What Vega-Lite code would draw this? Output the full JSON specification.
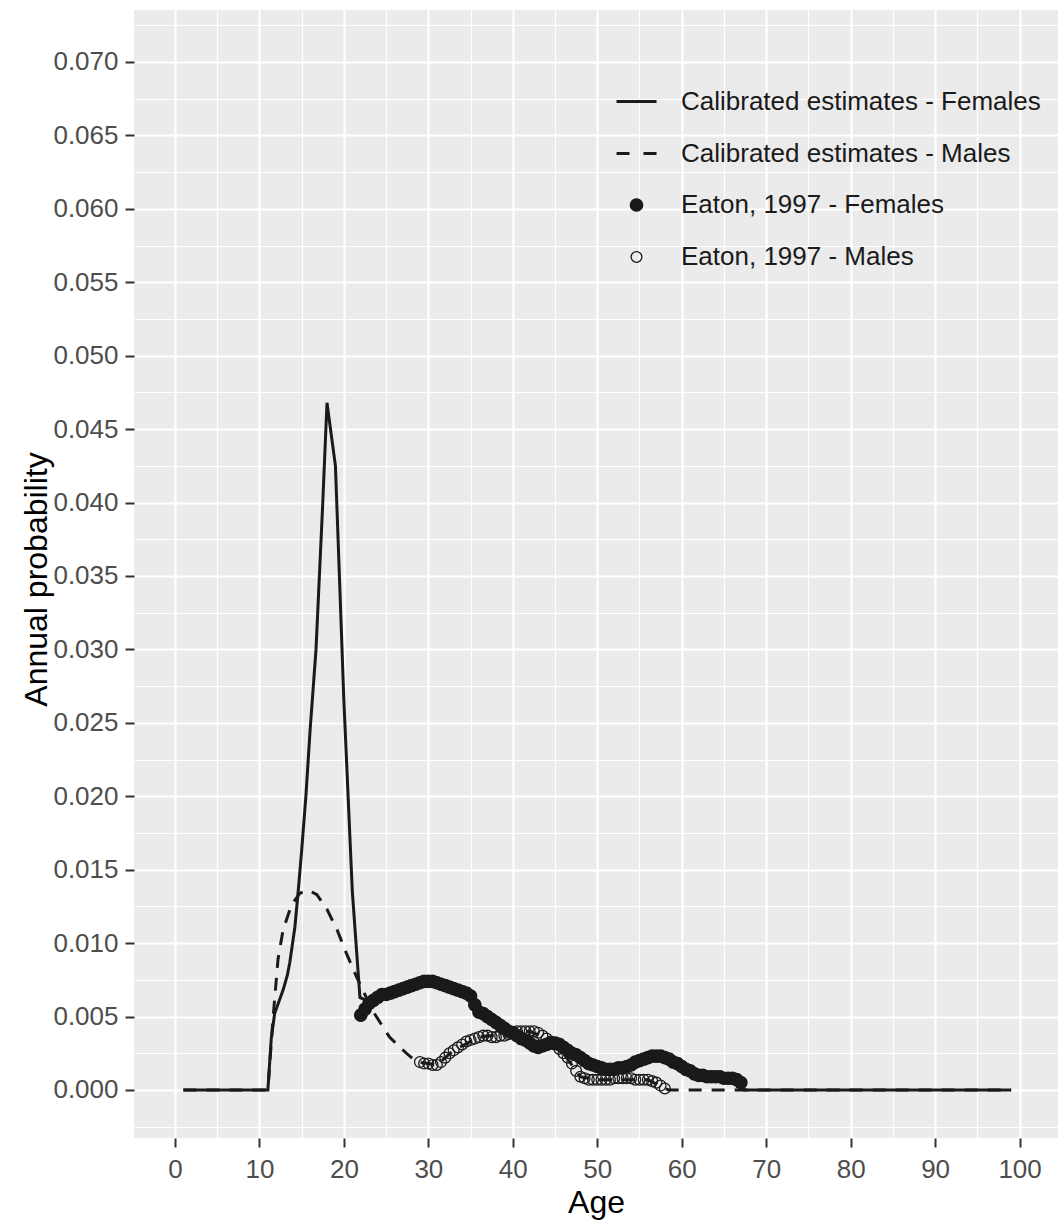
{
  "$schema": "https://vega.github.io/schema/vega-lite/v6.json",
  "width": 924,
  "height": 1128,
  "autosize": {"type": "none"},
  "padding": {"left": 134, "top": 10, "right": 5, "bottom": 84},
  "background": "white",
  "config": {
    "view": {"fill": "#ebebeb", "stroke": null},
    "font": "Liberation Sans",
    "axis": {
      "domain": false,
      "gridColor": "white",
      "tickColor": "#333333",
      "tickWidth": 2,
      "tickSize": 9,
      "labelColor": "#4d4d4d",
      "labelFont": "Liberation Sans",
      "labelFontSize": 26,
      "labelOverlap": false,
      "titleFont": "Liberation Sans",
      "titleFontSize": 32,
      "titleFontWeight": "normal",
      "titleColor": "#000000"
    },
    "legend": {
      "title": null, "orient": "none", "legendX": 481, "legendY": 70, "padding": 0,
      "labelFontSize": 26, "labelColor": "#1a1a1a", "labelFont": "Liberation Sans", "labelLimit": 600,
      "labelOffset": 23, "rowPadding": 17, "gridAlign": "all", "direction": "vertical",
      "symbolSize": 1600
    }
  },
  "datasets": {
    "lines": [
      {"age": 1, "p": 0, "series": "F"},
      {"age": 11, "p": 0, "series": "F"},
      {"age": 11.4, "p": 0.0035, "series": "F"},
      {"age": 11.8, "p": 0.0052, "series": "F"},
      {"age": 12.3, "p": 0.006, "series": "F"},
      {"age": 12.8, "p": 0.0068, "series": "F"},
      {"age": 13.3, "p": 0.0078, "series": "F"},
      {"age": 13.6, "p": 0.0087, "series": "F"},
      {"age": 14.2, "p": 0.0111, "series": "F"},
      {"age": 14.6, "p": 0.0136, "series": "F"},
      {"age": 15, "p": 0.0163, "series": "F"},
      {"age": 15.5, "p": 0.02, "series": "F"},
      {"age": 16, "p": 0.0245, "series": "F"},
      {"age": 16.7, "p": 0.03, "series": "F"},
      {"age": 17.5, "p": 0.04, "series": "F"},
      {"age": 18, "p": 0.0468, "series": "F"},
      {"age": 19, "p": 0.0425, "series": "F"},
      {"age": 20, "p": 0.0265, "series": "F"},
      {"age": 21, "p": 0.0135, "series": "F"},
      {"age": 21.9, "p": 0.0063, "series": "F"},
      {"age": 23, "p": 0.006, "series": "F"},
      {"age": 25, "p": 0.0065, "series": "F"},
      {"age": 27, "p": 0.0069, "series": "F"},
      {"age": 30, "p": 0.0074, "series": "F"},
      {"age": 33, "p": 0.0069, "series": "F"},
      {"age": 35, "p": 0.0064, "series": "F"},
      {"age": 36, "p": 0.0053, "series": "F"},
      {"age": 38, "p": 0.0046, "series": "F"},
      {"age": 40, "p": 0.0039, "series": "F"},
      {"age": 43, "p": 0.0029, "series": "F"},
      {"age": 45, "p": 0.0032, "series": "F"},
      {"age": 48, "p": 0.0022, "series": "F"},
      {"age": 51, "p": 0.0014, "series": "F"},
      {"age": 53, "p": 0.0015, "series": "F"},
      {"age": 57, "p": 0.0023, "series": "F"},
      {"age": 59, "p": 0.0019, "series": "F"},
      {"age": 62, "p": 0.001, "series": "F"},
      {"age": 66, "p": 0.0008, "series": "F"},
      {"age": 67, "p": 0.0005, "series": "F"},
      {"age": 67.4, "p": 0, "series": "F"},
      {"age": 99, "p": 0, "series": "F"},
      {"age": 1, "p": 0, "series": "M"},
      {"age": 11, "p": 0, "series": "M"},
      {"age": 11.6, "p": 0.0048, "series": "M"},
      {"age": 12.2, "p": 0.0089, "series": "M"},
      {"age": 12.8, "p": 0.0109, "series": "M"},
      {"age": 13.8, "p": 0.0126, "series": "M"},
      {"age": 14.8, "p": 0.0134, "series": "M"},
      {"age": 15.8, "p": 0.0136, "series": "M"},
      {"age": 16.8, "p": 0.0133, "series": "M"},
      {"age": 18, "p": 0.0123, "series": "M"},
      {"age": 19.2, "p": 0.0109, "series": "M"},
      {"age": 20.3, "p": 0.0093, "series": "M"},
      {"age": 21.5, "p": 0.0077, "series": "M"},
      {"age": 23.4, "p": 0.0054, "series": "M"},
      {"age": 25.4, "p": 0.0036, "series": "M"},
      {"age": 27.4, "p": 0.0025, "series": "M"},
      {"age": 28.6, "p": 0.0019, "series": "M"},
      {"age": 30, "p": 0.0018, "series": "M"},
      {"age": 31, "p": 0.0017, "series": "M"},
      {"age": 33, "p": 0.0027, "series": "M"},
      {"age": 36, "p": 0.0036, "series": "M"},
      {"age": 40, "p": 0.0039, "series": "M"},
      {"age": 42, "p": 0.004, "series": "M"},
      {"age": 44, "p": 0.0035, "series": "M"},
      {"age": 46, "p": 0.0025, "series": "M"},
      {"age": 48, "p": 0.0009, "series": "M"},
      {"age": 50, "p": 0.0007, "series": "M"},
      {"age": 56, "p": 0.0007, "series": "M"},
      {"age": 58, "p": 0.0001, "series": "M"},
      {"age": 58.5, "p": 0, "series": "M"},
      {"age": 99, "p": 0, "series": "M"}
    ],
    "points": [
      {"age": 29, "p": 0.0019, "series": "Eaton, 1997 - Males"},
      {"age": 29.5, "p": 0.0018, "series": "Eaton, 1997 - Males"},
      {"age": 30, "p": 0.0018, "series": "Eaton, 1997 - Males"},
      {"age": 30.5, "p": 0.0017, "series": "Eaton, 1997 - Males"},
      {"age": 31, "p": 0.0017, "series": "Eaton, 1997 - Males"},
      {"age": 31.5, "p": 0.0019, "series": "Eaton, 1997 - Males"},
      {"age": 32, "p": 0.0022, "series": "Eaton, 1997 - Males"},
      {"age": 32.5, "p": 0.0025, "series": "Eaton, 1997 - Males"},
      {"age": 33, "p": 0.0027, "series": "Eaton, 1997 - Males"},
      {"age": 33.5, "p": 0.0029, "series": "Eaton, 1997 - Males"},
      {"age": 34, "p": 0.0031, "series": "Eaton, 1997 - Males"},
      {"age": 34.5, "p": 0.0033, "series": "Eaton, 1997 - Males"},
      {"age": 35, "p": 0.0034, "series": "Eaton, 1997 - Males"},
      {"age": 35.5, "p": 0.0035, "series": "Eaton, 1997 - Males"},
      {"age": 36, "p": 0.0036, "series": "Eaton, 1997 - Males"},
      {"age": 36.5, "p": 0.0037, "series": "Eaton, 1997 - Males"},
      {"age": 37, "p": 0.0037, "series": "Eaton, 1997 - Males"},
      {"age": 37.5, "p": 0.0036, "series": "Eaton, 1997 - Males"},
      {"age": 38, "p": 0.0036, "series": "Eaton, 1997 - Males"},
      {"age": 38.5, "p": 0.0037, "series": "Eaton, 1997 - Males"},
      {"age": 39, "p": 0.0037, "series": "Eaton, 1997 - Males"},
      {"age": 39.5, "p": 0.0038, "series": "Eaton, 1997 - Males"},
      {"age": 40, "p": 0.0039, "series": "Eaton, 1997 - Males"},
      {"age": 40.5, "p": 0.004, "series": "Eaton, 1997 - Males"},
      {"age": 41, "p": 0.004, "series": "Eaton, 1997 - Males"},
      {"age": 41.5, "p": 0.004, "series": "Eaton, 1997 - Males"},
      {"age": 42, "p": 0.004, "series": "Eaton, 1997 - Males"},
      {"age": 42.5, "p": 0.004, "series": "Eaton, 1997 - Males"},
      {"age": 43, "p": 0.0039, "series": "Eaton, 1997 - Males"},
      {"age": 43.5, "p": 0.0037, "series": "Eaton, 1997 - Males"},
      {"age": 44, "p": 0.0035, "series": "Eaton, 1997 - Males"},
      {"age": 44.5, "p": 0.0033, "series": "Eaton, 1997 - Males"},
      {"age": 45, "p": 0.0031, "series": "Eaton, 1997 - Males"},
      {"age": 45.5, "p": 0.0028, "series": "Eaton, 1997 - Males"},
      {"age": 46, "p": 0.0025, "series": "Eaton, 1997 - Males"},
      {"age": 46.5, "p": 0.0022, "series": "Eaton, 1997 - Males"},
      {"age": 47, "p": 0.0018, "series": "Eaton, 1997 - Males"},
      {"age": 47.5, "p": 0.0013, "series": "Eaton, 1997 - Males"},
      {"age": 48, "p": 0.0009, "series": "Eaton, 1997 - Males"},
      {"age": 48.5, "p": 0.0008, "series": "Eaton, 1997 - Males"},
      {"age": 49, "p": 0.0007, "series": "Eaton, 1997 - Males"},
      {"age": 49.5, "p": 0.0007, "series": "Eaton, 1997 - Males"},
      {"age": 50, "p": 0.0007, "series": "Eaton, 1997 - Males"},
      {"age": 50.5, "p": 0.0007, "series": "Eaton, 1997 - Males"},
      {"age": 51, "p": 0.0007, "series": "Eaton, 1997 - Males"},
      {"age": 51.5, "p": 0.0007, "series": "Eaton, 1997 - Males"},
      {"age": 52, "p": 0.0008, "series": "Eaton, 1997 - Males"},
      {"age": 52.5, "p": 0.0008, "series": "Eaton, 1997 - Males"},
      {"age": 53, "p": 0.0008, "series": "Eaton, 1997 - Males"},
      {"age": 53.5, "p": 0.0008, "series": "Eaton, 1997 - Males"},
      {"age": 54, "p": 0.0008, "series": "Eaton, 1997 - Males"},
      {"age": 54.5, "p": 0.0007, "series": "Eaton, 1997 - Males"},
      {"age": 55, "p": 0.0007, "series": "Eaton, 1997 - Males"},
      {"age": 55.5, "p": 0.0007, "series": "Eaton, 1997 - Males"},
      {"age": 56, "p": 0.0007, "series": "Eaton, 1997 - Males"},
      {"age": 56.5, "p": 0.0006, "series": "Eaton, 1997 - Males"},
      {"age": 57, "p": 0.0005, "series": "Eaton, 1997 - Males"},
      {"age": 57.5, "p": 0.0003, "series": "Eaton, 1997 - Males"},
      {"age": 58, "p": 0.0001, "series": "Eaton, 1997 - Males"},
      {"age": 22, "p": 0.0051, "series": "Eaton, 1997 - Females"},
      {"age": 22.5, "p": 0.0055, "series": "Eaton, 1997 - Females"},
      {"age": 23, "p": 0.0059, "series": "Eaton, 1997 - Females"},
      {"age": 23.5, "p": 0.0061, "series": "Eaton, 1997 - Females"},
      {"age": 24, "p": 0.0063, "series": "Eaton, 1997 - Females"},
      {"age": 24.5, "p": 0.0065, "series": "Eaton, 1997 - Females"},
      {"age": 25, "p": 0.0065, "series": "Eaton, 1997 - Females"},
      {"age": 25.5, "p": 0.0066, "series": "Eaton, 1997 - Females"},
      {"age": 26, "p": 0.0067, "series": "Eaton, 1997 - Females"},
      {"age": 26.5, "p": 0.0068, "series": "Eaton, 1997 - Females"},
      {"age": 27, "p": 0.0069, "series": "Eaton, 1997 - Females"},
      {"age": 27.5, "p": 0.007, "series": "Eaton, 1997 - Females"},
      {"age": 28, "p": 0.0071, "series": "Eaton, 1997 - Females"},
      {"age": 28.5, "p": 0.0072, "series": "Eaton, 1997 - Females"},
      {"age": 29, "p": 0.0073, "series": "Eaton, 1997 - Females"},
      {"age": 29.5, "p": 0.0074, "series": "Eaton, 1997 - Females"},
      {"age": 30, "p": 0.0074, "series": "Eaton, 1997 - Females"},
      {"age": 30.5, "p": 0.0074, "series": "Eaton, 1997 - Females"},
      {"age": 31, "p": 0.0073, "series": "Eaton, 1997 - Females"},
      {"age": 31.5, "p": 0.0072, "series": "Eaton, 1997 - Females"},
      {"age": 32, "p": 0.0071, "series": "Eaton, 1997 - Females"},
      {"age": 32.5, "p": 0.007, "series": "Eaton, 1997 - Females"},
      {"age": 33, "p": 0.0069, "series": "Eaton, 1997 - Females"},
      {"age": 33.5, "p": 0.0068, "series": "Eaton, 1997 - Females"},
      {"age": 34, "p": 0.0067, "series": "Eaton, 1997 - Females"},
      {"age": 34.5, "p": 0.0066, "series": "Eaton, 1997 - Females"},
      {"age": 35, "p": 0.0064, "series": "Eaton, 1997 - Females"},
      {"age": 35.5, "p": 0.0058, "series": "Eaton, 1997 - Females"},
      {"age": 36, "p": 0.0053, "series": "Eaton, 1997 - Females"},
      {"age": 36.5, "p": 0.0052, "series": "Eaton, 1997 - Females"},
      {"age": 37, "p": 0.005, "series": "Eaton, 1997 - Females"},
      {"age": 37.5, "p": 0.0048, "series": "Eaton, 1997 - Females"},
      {"age": 38, "p": 0.0046, "series": "Eaton, 1997 - Females"},
      {"age": 38.5, "p": 0.0044, "series": "Eaton, 1997 - Females"},
      {"age": 39, "p": 0.0042, "series": "Eaton, 1997 - Females"},
      {"age": 39.5, "p": 0.004, "series": "Eaton, 1997 - Females"},
      {"age": 40, "p": 0.0039, "series": "Eaton, 1997 - Females"},
      {"age": 40.5, "p": 0.0037, "series": "Eaton, 1997 - Females"},
      {"age": 41, "p": 0.0035, "series": "Eaton, 1997 - Females"},
      {"age": 41.5, "p": 0.0034, "series": "Eaton, 1997 - Females"},
      {"age": 42, "p": 0.0032, "series": "Eaton, 1997 - Females"},
      {"age": 42.5, "p": 0.003, "series": "Eaton, 1997 - Females"},
      {"age": 43, "p": 0.0029, "series": "Eaton, 1997 - Females"},
      {"age": 43.5, "p": 0.003, "series": "Eaton, 1997 - Females"},
      {"age": 44, "p": 0.0031, "series": "Eaton, 1997 - Females"},
      {"age": 44.5, "p": 0.0032, "series": "Eaton, 1997 - Females"},
      {"age": 45, "p": 0.0032, "series": "Eaton, 1997 - Females"},
      {"age": 45.5, "p": 0.0031, "series": "Eaton, 1997 - Females"},
      {"age": 46, "p": 0.0029, "series": "Eaton, 1997 - Females"},
      {"age": 46.5, "p": 0.0027, "series": "Eaton, 1997 - Females"},
      {"age": 47, "p": 0.0025, "series": "Eaton, 1997 - Females"},
      {"age": 47.5, "p": 0.0024, "series": "Eaton, 1997 - Females"},
      {"age": 48, "p": 0.0022, "series": "Eaton, 1997 - Females"},
      {"age": 48.5, "p": 0.002, "series": "Eaton, 1997 - Females"},
      {"age": 49, "p": 0.0018, "series": "Eaton, 1997 - Females"},
      {"age": 49.5, "p": 0.0017, "series": "Eaton, 1997 - Females"},
      {"age": 50, "p": 0.0016, "series": "Eaton, 1997 - Females"},
      {"age": 50.5, "p": 0.0015, "series": "Eaton, 1997 - Females"},
      {"age": 51, "p": 0.0014, "series": "Eaton, 1997 - Females"},
      {"age": 51.5, "p": 0.0014, "series": "Eaton, 1997 - Females"},
      {"age": 52, "p": 0.0014, "series": "Eaton, 1997 - Females"},
      {"age": 52.5, "p": 0.0015, "series": "Eaton, 1997 - Females"},
      {"age": 53, "p": 0.0015, "series": "Eaton, 1997 - Females"},
      {"age": 53.5, "p": 0.0016, "series": "Eaton, 1997 - Females"},
      {"age": 54, "p": 0.0017, "series": "Eaton, 1997 - Females"},
      {"age": 54.5, "p": 0.0019, "series": "Eaton, 1997 - Females"},
      {"age": 55, "p": 0.002, "series": "Eaton, 1997 - Females"},
      {"age": 55.5, "p": 0.0021, "series": "Eaton, 1997 - Females"},
      {"age": 56, "p": 0.0022, "series": "Eaton, 1997 - Females"},
      {"age": 56.5, "p": 0.0023, "series": "Eaton, 1997 - Females"},
      {"age": 57, "p": 0.0023, "series": "Eaton, 1997 - Females"},
      {"age": 57.5, "p": 0.0023, "series": "Eaton, 1997 - Females"},
      {"age": 58, "p": 0.0022, "series": "Eaton, 1997 - Females"},
      {"age": 58.5, "p": 0.0021, "series": "Eaton, 1997 - Females"},
      {"age": 59, "p": 0.0019, "series": "Eaton, 1997 - Females"},
      {"age": 59.5, "p": 0.0018, "series": "Eaton, 1997 - Females"},
      {"age": 60, "p": 0.0016, "series": "Eaton, 1997 - Females"},
      {"age": 60.5, "p": 0.0014, "series": "Eaton, 1997 - Females"},
      {"age": 61, "p": 0.0013, "series": "Eaton, 1997 - Females"},
      {"age": 61.5, "p": 0.0011, "series": "Eaton, 1997 - Females"},
      {"age": 62, "p": 0.001, "series": "Eaton, 1997 - Females"},
      {"age": 62.5, "p": 0.001, "series": "Eaton, 1997 - Females"},
      {"age": 63, "p": 0.0009, "series": "Eaton, 1997 - Females"},
      {"age": 63.5, "p": 0.0009, "series": "Eaton, 1997 - Females"},
      {"age": 64, "p": 0.0009, "series": "Eaton, 1997 - Females"},
      {"age": 64.5, "p": 0.0009, "series": "Eaton, 1997 - Females"},
      {"age": 65, "p": 0.0008, "series": "Eaton, 1997 - Females"},
      {"age": 65.5, "p": 0.0008, "series": "Eaton, 1997 - Females"},
      {"age": 66, "p": 0.0008, "series": "Eaton, 1997 - Females"},
      {"age": 66.5, "p": 0.0007, "series": "Eaton, 1997 - Females"},
      {"age": 67, "p": 0.0005, "series": "Eaton, 1997 - Females"}
    ]
  },
  "encoding": {
    "x": {
      "field": "age",
      "type": "quantitative",
      "title": "Age",
      "scale": {"domain": [-4.85, 104.55], "nice": false, "zero": false},
      "axis": {
        "values": [0, 5, 10, 15, 20, 25, 30, 35, 40, 45, 50, 55, 60, 65, 70, 75, 80, 85, 90, 95, 100],
        "format": "d",
        "labelExpr": "datum.value % 10 === 0 ? datum.label : ''",
        "gridWidth": {"condition": {"test": "datum.value % 10 !== 0", "value": 1.1}, "value": 2.2},
        "tickOpacity": {"condition": {"test": "datum.value % 10 !== 0", "value": 0}, "value": 1},
        "labelPadding": 9,
        "titleY": 74,
        "titleBaseline": "alphabetic"
      }
    },
    "y": {
      "field": "p",
      "type": "quantitative",
      "title": "Annual probability",
      "scale": {"domain": [-0.00327, 0.07354], "nice": false, "zero": false},
      "axis": {
        "values": [-0.0025, 0, 0.0025, 0.005, 0.0075, 0.01, 0.0125, 0.015, 0.0175, 0.02, 0.0225, 0.025, 0.0275, 0.03, 0.0325, 0.035, 0.0375, 0.04, 0.0425, 0.045, 0.0475, 0.05, 0.0525, 0.055, 0.0575, 0.06, 0.0625, 0.065, 0.0675, 0.07, 0.0725],
        "format": ".3f",
        "labelExpr": "abs(datum.value * 200 - round(datum.value * 200)) > 0.01 ? '' : datum.label",
        "gridWidth": {"condition": {"test": "abs(datum.value * 200 - round(datum.value * 200)) > 0.01", "value": 1.1}, "value": 2.2},
        "tickOpacity": {"condition": {"test": "abs(datum.value * 200 - round(datum.value * 200)) > 0.01", "value": 0}, "value": 1},
        "labelPadding": 7,
        "titleX": -88,
        "titleY": 569,
        "titleAngle": -90,
        "titleAlign": "center",
        "titleBaseline": "alphabetic"
      }
    }
  },
  "layer": [
    {
      "data": {"name": "lines"},
      "transform": [{"filter": "datum.series === 'F'"}],
      "mark": {"type": "line", "stroke": "#1a1a1a", "strokeWidth": 3}
    },
    {
      "data": {"name": "lines"},
      "transform": [{"filter": "datum.series === 'M'"}],
      "mark": {"type": "line", "stroke": "#1a1a1a", "strokeWidth": 3, "strokeDash": [13, 10]}
    },
    {
      "data": {"name": "points"},
      "mark": {"type": "point", "filled": true, "opacity": 1, "size": 1600},
      "encoding": {
        "shape": {
          "field": "series", "type": "nominal",
          "scale": {
            "type": "ordinal",
            "domain": ["Calibrated estimates - Females", "Calibrated estimates - Males", "Eaton, 1997 - Females", "Eaton, 1997 - Males"],
            "range": [
              "M-1,0H1",
              "M-1,0H-0.35M0.35,0H1",
              "M0.31,0A0.31,0.31,0,1,1,-0.31,0A0.31,0.31,0,1,1,0.31,0Z",
              "M0.27,0A0.27,0.27,0,1,1,-0.27,0A0.27,0.27,0,1,1,0.27,0Z"
            ]
          }
        },
        "fill": {
          "field": "series", "type": "nominal",
          "scale": {
            "type": "ordinal",
            "domain": ["Calibrated estimates - Females", "Calibrated estimates - Males", "Eaton, 1997 - Females", "Eaton, 1997 - Males"],
            "range": ["transparent", "transparent", "#1a1a1a", "transparent"]
          }
        },
        "stroke": {
          "field": "series", "type": "nominal",
          "scale": {
            "type": "ordinal",
            "domain": ["Calibrated estimates - Females", "Calibrated estimates - Males", "Eaton, 1997 - Females", "Eaton, 1997 - Males"],
            "range": ["#1a1a1a", "#1a1a1a", "#1a1a1a", "#1a1a1a"]
          }
        },
        "strokeWidth": {
          "field": "series", "type": "nominal",
          "scale": {
            "type": "ordinal",
            "domain": ["Calibrated estimates - Females", "Calibrated estimates - Males", "Eaton, 1997 - Females", "Eaton, 1997 - Males"],
            "range": [3, 3, 1.3, 1.3]
          }
        }
      }
    }
  ]
}
